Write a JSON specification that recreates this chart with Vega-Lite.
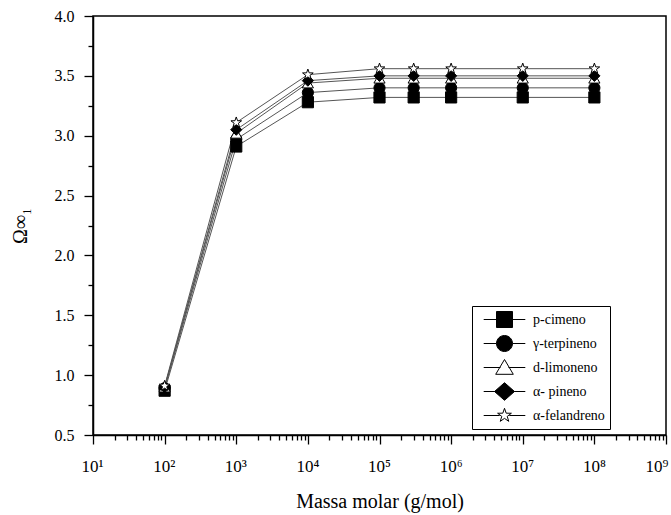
{
  "$schema": "https://vega.github.io/schema/vega-lite/v6.json",
  "width": 573,
  "height": 419,
  "autosize": "none",
  "padding": {"left": 93, "top": 16, "right": 5, "bottom": 80},
  "background": "white",
  "config": {
    "view": {"stroke": "black", "strokeWidth": 1.5},
    "font": "Liberation Serif",
    "legend": {"symbolStrokeColor": "black", "symbolStrokeWidth": 1}
  },
  "data": {
    "values": [
      {"s": "p-cimeno", "m": 100, "o": 0.87},
      {"s": "p-cimeno", "m": 1000, "o": 2.91},
      {"s": "p-cimeno", "m": 10000, "o": 3.28},
      {"s": "p-cimeno", "m": 100000, "o": 3.32},
      {"s": "p-cimeno", "m": 300000, "o": 3.32},
      {"s": "p-cimeno", "m": 1000000, "o": 3.32},
      {"s": "p-cimeno", "m": 10000000, "o": 3.32},
      {"s": "p-cimeno", "m": 100000000, "o": 3.32},
      {"s": "γ-terpineno", "m": 100, "o": 0.89},
      {"s": "γ-terpineno", "m": 1000, "o": 2.97},
      {"s": "γ-terpineno", "m": 10000, "o": 3.36},
      {"s": "γ-terpineno", "m": 100000, "o": 3.40},
      {"s": "γ-terpineno", "m": 300000, "o": 3.40},
      {"s": "γ-terpineno", "m": 1000000, "o": 3.40},
      {"s": "γ-terpineno", "m": 10000000, "o": 3.40},
      {"s": "γ-terpineno", "m": 100000000, "o": 3.40},
      {"s": "d-limoneno", "m": 100, "o": 0.90},
      {"s": "d-limoneno", "m": 1000, "o": 3.02},
      {"s": "d-limoneno", "m": 10000, "o": 3.44},
      {"s": "d-limoneno", "m": 100000, "o": 3.48},
      {"s": "d-limoneno", "m": 300000, "o": 3.48},
      {"s": "d-limoneno", "m": 1000000, "o": 3.48},
      {"s": "d-limoneno", "m": 10000000, "o": 3.48},
      {"s": "d-limoneno", "m": 100000000, "o": 3.48},
      {"s": "α- pineno", "m": 100, "o": 0.90},
      {"s": "α- pineno", "m": 1000, "o": 3.05},
      {"s": "α- pineno", "m": 10000, "o": 3.46},
      {"s": "α- pineno", "m": 100000, "o": 3.50},
      {"s": "α- pineno", "m": 300000, "o": 3.50},
      {"s": "α- pineno", "m": 1000000, "o": 3.50},
      {"s": "α- pineno", "m": 10000000, "o": 3.50},
      {"s": "α- pineno", "m": 100000000, "o": 3.50},
      {"s": "α-felandreno", "m": 100, "o": 0.91},
      {"s": "α-felandreno", "m": 1000, "o": 3.11},
      {"s": "α-felandreno", "m": 10000, "o": 3.51},
      {"s": "α-felandreno", "m": 100000, "o": 3.56},
      {"s": "α-felandreno", "m": 300000, "o": 3.56},
      {"s": "α-felandreno", "m": 1000000, "o": 3.56},
      {"s": "α-felandreno", "m": 10000000, "o": 3.56},
      {"s": "α-felandreno", "m": 100000000, "o": 3.56}
    ]
  },
  "encoding": {
    "x": {
      "field": "m", "type": "quantitative",
      "scale": {"type": "log", "domain": [10, 1000000000], "nice": false},
      "axis": {
        "title": "Massa molar (g/mol)",
        "titleFont": "Liberation Serif", "titleFontSize": 20, "titleFontWeight": "normal", "titlePadding": 17,
        "values": [10,20,30,40,50,60,70,80,90,100,200,300,400,500,600,700,800,900,1000,2000,3000,4000,5000,6000,7000,8000,9000,10000,20000,30000,40000,50000,60000,70000,80000,90000,100000,200000,300000,400000,500000,600000,700000,800000,900000,1000000,2000000,3000000,4000000,5000000,6000000,7000000,8000000,9000000,10000000,20000000,30000000,40000000,50000000,60000000,70000000,80000000,90000000,100000000,200000000,300000000,400000000,500000000,600000000,700000000,800000000,900000000,1000000000],
        "labelExpr": "abs(log(datum.value)/LN10 - round(log(datum.value)/LN10)) < 0.001 ? '10' + ['⁰','¹','²','³','⁴','⁵','⁶','⁷','⁸','⁹'][round(log(datum.value)/LN10)] : ''",
        "labelFont": "Liberation Serif", "labelFontSize": 17, "labelColor": "black", "labelPadding": 14,
        "labelAlign": {"condition": {"test": "datum.value > 500000000", "value": "right"}, "value": "left"},
        "labelOffset": {"condition": {"test": "datum.value > 500000000", "value": 2}, "value": -12},
        "labelOverlap": false, "labelFlush": false,
        "tickSize": {"condition": {"test": "abs(log(datum.value)/LN10 - round(log(datum.value)/LN10)) < 0.001", "value": 9}, "value": 5},
        "tickColor": "black", "tickWidth": 1.3,
        "domainColor": "black", "domainWidth": 1.5, "grid": false
      }
    },
    "y": {
      "field": "o", "type": "quantitative",
      "scale": {"domain": [0.5, 4.0], "nice": false, "zero": false},
      "axis": {
        "title": "Ω∞₁",
        "titleFont": "Liberation Serif", "titleFontSize": 20, "titleFontWeight": "normal", "titlePadding": 24,
        "values": [0.5,0.75,1.0,1.25,1.5,1.75,2.0,2.25,2.5,2.75,3.0,3.25,3.5,3.75,4.0],
        "labelExpr": "abs(datum.value*2 - round(datum.value*2)) < 0.001 ? format(datum.value, '.1f') : ''",
        "labelFont": "Liberation Serif", "labelFontSize": 16, "labelColor": "black", "labelPadding": 10,
        "labelFlush": false,
        "tickSize": {"condition": {"test": "abs(datum.value*2 - round(datum.value*2)) < 0.001", "value": 9}, "value": 5},
        "tickColor": "black", "tickWidth": 1.3,
        "domainColor": "black", "domainWidth": 1.5, "grid": false
      }
    }
  },
  "resolve": {"scale": {"shape": "independent", "fill": "independent", "stroke": "independent"}},
  "layer": [
    {
      "mark": {"type": "line", "stroke": "#555555", "strokeWidth": 1},
      "encoding": {
        "detail": {"field": "s"}
      }
    },
    {
      "mark": {"type": "point", "filled": false, "stroke": "black", "strokeWidth": 1, "size": 125, "opacity": 1},
      "encoding": {
        "shape": {
          "field": "s", "type": "nominal",
          "scale": {
            "domain": ["p-cimeno", "γ-terpineno", "d-limoneno", "α- pineno", "α-felandreno"],
            "range": ["square", "circle", "triangle-up", "diamond", "M0,-1L0.235,-0.324L0.951,-0.309L0.380,0.124L0.588,0.809L0,0.4L-0.588,0.809L-0.380,0.124L-0.951,-0.309L-0.235,-0.324Z"]
          },
          "legend": null
        },
        "fill": {
          "field": "s", "type": "nominal",
          "scale": {
            "domain": ["p-cimeno", "γ-terpineno", "d-limoneno", "α- pineno", "α-felandreno"],
            "range": ["black", "black", "white", "black", "white"]
          },
          "legend": null
        }
      }
    },
    {
      "transform": [{"filter": "datum.m < 0"}],
      "mark": {"type": "point", "filled": true, "size": 256, "strokeWidth": 1, "opacity": 1},
      "encoding": {
        "shape": {
          "field": "s", "type": "nominal",
          "scale": {
            "domain": ["p-cimeno", "γ-terpineno", "d-limoneno", "α- pineno", "α-felandreno"],
            "range": [
              "M-2.6,0H-1M1,0H2.6M-1,-1H1V1H-1Z",
              "M-2.6,0H-1M1,0H2.6M1,0A1,1 0 1,1 -1,0A1,1 0 1,1 1,0Z",
              "M-2.6,0H-0.5M0.5,0H2.6M0,-1L1.1,0.85H-1.1Z",
              "M-2.6,0H-1.2M1.2,0H2.6M0,-1.1L1.25,0L0,1.1L-1.25,0Z",
              "M-2.6,0H-0.6M0.6,0H2.6M0,-0.9L0.21,-0.29L0.86,-0.28L0.34,0.11L0.53,0.73L0,0.36L-0.53,0.73L-0.34,0.11L-0.86,-0.28L-0.21,-0.29Z"
            ]
          },
          "legend": {
            "title": "\u00a0\u00a0\u00a0\u00a0\u00a0\u00a0\u00a0\u00a0\u00a0\u00a0\u00a0\u00a0", "titleOrient": "right", "titleAngle": 0, "titlePadding": 0, "titleFontSize": 14,
            "orient": "none", "legendX": 379, "legendY": 290,
            "strokeColor": "black", "fillColor": "white", "padding": 5,
            "labelFont": "Liberation Serif", "labelFontSize": 14, "labelColor": "black",
            "symbolSize": 256, "symbolStrokeColor": "black", "symbolStrokeWidth": 1,
            "rowPadding": 3, "labelOffset": 20, "symbolOffset": 19
          }
        },
        "fill": {
          "field": "s", "type": "nominal",
          "scale": {
            "domain": ["p-cimeno", "γ-terpineno", "d-limoneno", "α- pineno", "α-felandreno"],
            "range": ["black", "black", "white", "black", "white"]
          },
          "legend": {
            "title": "\u00a0\u00a0\u00a0\u00a0\u00a0\u00a0\u00a0\u00a0\u00a0\u00a0\u00a0\u00a0", "titleOrient": "right", "titleAngle": 0, "titlePadding": 0, "titleFontSize": 14,
            "orient": "none", "legendX": 379, "legendY": 290,
            "strokeColor": "black", "fillColor": "white", "padding": 5,
            "labelFont": "Liberation Serif", "labelFontSize": 14, "labelColor": "black",
            "symbolSize": 256, "symbolStrokeColor": "black", "symbolStrokeWidth": 1,
            "rowPadding": 3, "labelOffset": 20, "symbolOffset": 19
          }
        },
        "stroke": {
          "field": "s", "type": "nominal",
          "scale": {
            "domain": ["p-cimeno", "γ-terpineno", "d-limoneno", "α- pineno", "α-felandreno"],
            "range": ["black", "black", "black", "black", "black"]
          },
          "legend": {
            "title": "\u00a0\u00a0\u00a0\u00a0\u00a0\u00a0\u00a0\u00a0\u00a0\u00a0\u00a0\u00a0", "titleOrient": "right", "titleAngle": 0, "titlePadding": 0, "titleFontSize": 14,
            "orient": "none", "legendX": 379, "legendY": 290,
            "strokeColor": "black", "fillColor": "white", "padding": 5,
            "labelFont": "Liberation Serif", "labelFontSize": 14, "labelColor": "black",
            "symbolSize": 256, "symbolStrokeColor": "black", "symbolStrokeWidth": 1,
            "rowPadding": 3, "labelOffset": 20, "symbolOffset": 19
          }
        }
      }
    }
  ]
}
